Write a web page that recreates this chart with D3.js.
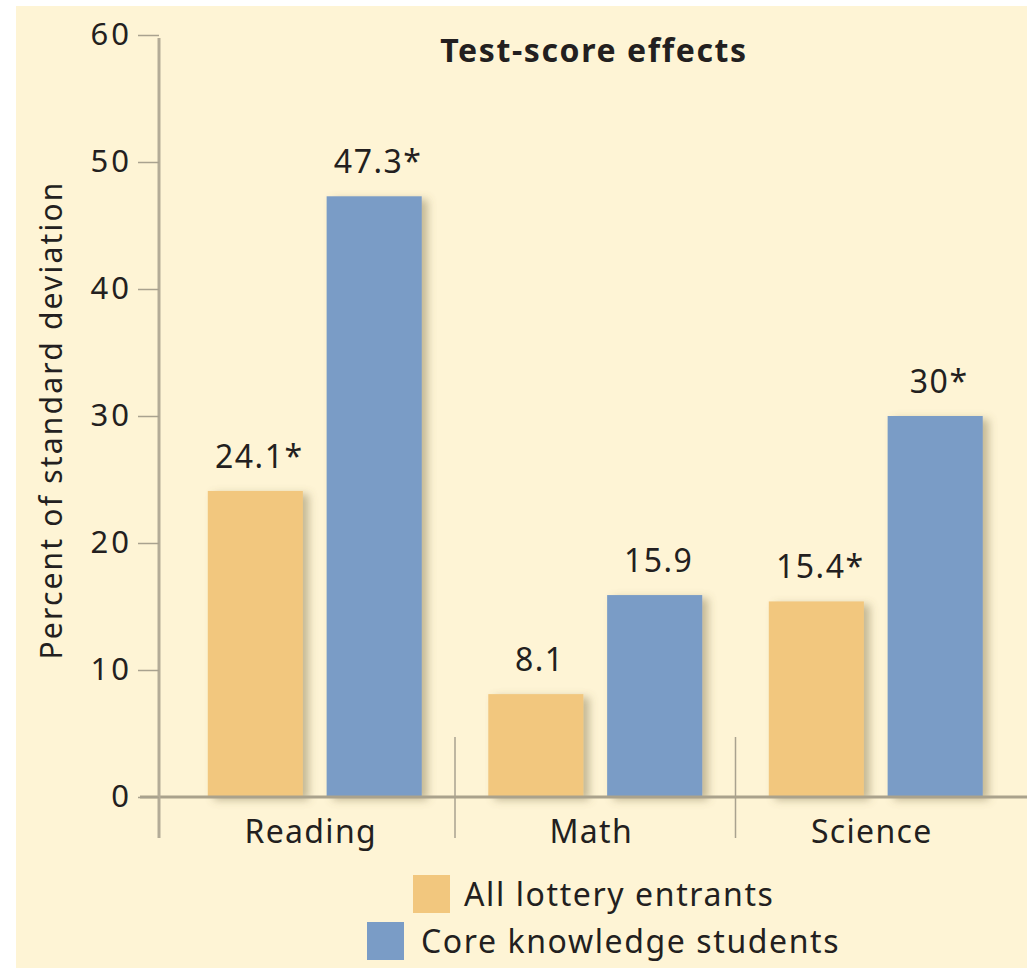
<!DOCTYPE html>
<html>
<head>
<meta charset="utf-8">
<title>Test-score effects</title>
<script src="https://cdn.jsdelivr.net/npm/d3@7"></script>
<style>
  body { margin: 0; background: #fff; }
  text { font-family: "Noto Sans", sans-serif; fill: #231f20; }
</style>
</head>
<body>
<svg id="chart"></svg>
<script>
const categories = ["Reading", "Math", "Science"];
const series = ["All lottery entrants", "Core knowledge students"];
const lotteryValues = [24.1, 8.1, 15.4];
const coreValues = [47.3, 15.9, 30];
const labelsLottery = ["24.1*", "8.1", "15.4*"];
const labelsCore = ["47.3*", "15.9", "30*"];
const yTicks = [0, 10, 20, 30, 40, 50, 60];
const colors = ["#f2c77e", "#7a9cc6"];

const W = 1033, H = 970;
const svg = d3.select("#chart").attr("width", W).attr("height", H);

// shadow for bars
const defs = svg.append("defs");
defs.append("filter").attr("id", "shadow")
  .attr("x", "-20%").attr("y", "-10%").attr("width", "150%").attr("height", "130%")
  .append("feDropShadow")
  .attr("dx", 6).attr("dy", 3).attr("stdDeviation", 4)
  .attr("flood-color", "#7d6d45").attr("flood-opacity", 0.45);

svg.append("rect").attr("x", 16).attr("y", 6).attr("width", 1011).attr("height", 962)
  .attr("fill", "#fef4d5");

const y = d3.scaleLinear().domain([0, 60]).range([797, 35]);
const x0 = d3.scaleBand().domain(categories).range([174.5, 1016]);
const x1 = d3.scaleBand().domain(series).range([0, x0.bandwidth()])
  .paddingInner(0.2).paddingOuter(0.28);

const rows = categories.map((c, i) => ({
  cat: c,
  bars: [
    { s: series[0], v: lotteryValues[i], label: labelsLottery[i], color: colors[0] },
    { s: series[1], v: coreValues[i], label: labelsCore[i], color: colors[1] }
  ]
}));

// group separators
svg.append("g").selectAll("line")
  .data(categories.slice(1))
  .join("line")
  .attr("x1", d => x0(d)).attr("x2", d => x0(d))
  .attr("y1", 737).attr("y2", 838)
  .attr("stroke", "#a9a28f").attr("stroke-width", 1.5);

// bars
const groups = svg.append("g").selectAll("g")
  .data(rows).join("g")
  .attr("transform", d => `translate(${x0(d.cat)},0)`);

groups.selectAll("rect")
  .data(d => d.bars).join("rect")
  .attr("x", d => x1(d.s))
  .attr("y", d => y(d.v))
  .attr("width", x1.bandwidth())
  .attr("height", d => y(0) - y(d.v))
  .attr("fill", d => d.color)
  .attr("filter", "url(#shadow)");

groups.selectAll("text")
  .data(d => d.bars).join("text")
  .attr("x", d => x1(d.s) + x1.bandwidth() / 2 + 4)
  .attr("y", d => y(d.v) - 23)
  .attr("text-anchor", "middle")
  .style("font-size", "32px")
  .style("letter-spacing", "1.5px")
  .text(d => d.label);

// x axis baseline
svg.append("line")
  .attr("x1", 140).attr("x2", 1027)
  .attr("y1", y(0)).attr("y2", y(0))
  .attr("stroke", "#aaa28c").attr("stroke-width", 3);

// y axis
svg.append("line")
  .attr("x1", 159).attr("x2", 159)
  .attr("y1", y(60) + 3).attr("y2", 838)
  .attr("stroke", "#b3ab97").attr("stroke-width", 3);

const yAxis = svg.append("g")
  .attr("transform", "translate(159,0)")
  .call(d3.axisLeft(y).tickValues(yTicks).tickSize(21).tickPadding(6));
yAxis.select(".domain").remove();
yAxis.selectAll(".tick line").attr("stroke", "#a9a28f").attr("stroke-width", 1.5);
yAxis.selectAll(".tick text")
  .style("font-family", "'Noto Sans', sans-serif")
  .style("font-size", "31px")
  .style("letter-spacing", "3px")
  .attr("fill", "#231f20");

// category labels
svg.append("g").selectAll("text")
  .data(categories).join("text")
  .attr("x", d => x0(d) + x0.bandwidth() / 2 - 4)
  .attr("y", 843)
  .attr("text-anchor", "middle")
  .style("font-size", "32px")
  .style("letter-spacing", "1.3px")
  .text(d => d);

// title
svg.append("text")
  .attr("x", 594).attr("y", 62)
  .attr("text-anchor", "middle")
  .style("font-size", "32px").style("font-weight", "bold")
  .style("letter-spacing", "1.6px")
  .text("Test-score effects");

// y label
svg.append("text")
  .attr("transform", "translate(62,420) rotate(-90)")
  .attr("text-anchor", "middle")
  .style("font-size", "30px")
  .style("letter-spacing", "2.2px")
  .text("Percent of standard deviation");

// legend
const legendPos = [{ sx: 413, sy: 875, tx: 464, ty: 906 }, { sx: 367, sy: 922, tx: 421, ty: 953 }];
const legend = svg.append("g").selectAll("g")
  .data(series).join("g");
legend.append("rect")
  .attr("x", (d, i) => legendPos[i].sx).attr("y", (d, i) => legendPos[i].sy)
  .attr("width", 37).attr("height", 38)
  .attr("fill", (d, i) => colors[i]);
legend.append("text")
  .attr("x", (d, i) => legendPos[i].tx).attr("y", (d, i) => legendPos[i].ty)
  .style("font-size", "32px")
  .style("letter-spacing", "1.6px")
  .text(d => d);
</script>
</body>
</html>
